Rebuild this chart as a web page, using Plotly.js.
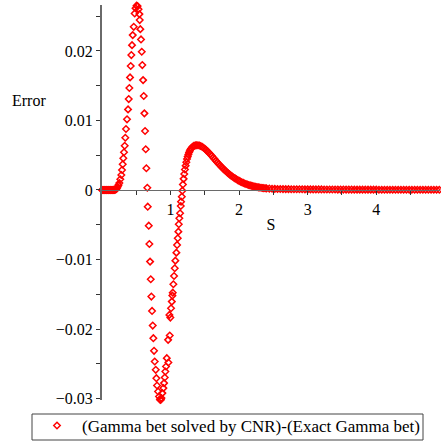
<!DOCTYPE html>
<html>
<head>
<meta charset="utf-8">
<script src="https://cdn.plot.ly/plotly-3.0.1.min.js"></script>
<style>html,body{margin:0;padding:0;background:#fff;}#chart{width:441px;height:444px;}</style>
</head>
<body>
<div id="chart"></div>
<script>
// S values and Error values
const sValues = [
0,0.01,0.02,0.03,0.04,0.05,0.06,0.07,0.08,0.09,0.10,0.11,0.12,0.13,0.14,0.15,0.16,0.17,0.18,0.19,0.20,0.21,0.22,
0.229,0.240,0.253,0.267,0.282,0.292,0.302,0.311,0.321,0.331,0.340,0.350,0.365,0.380,0.390,0.399,0.409,0.419,0.428,0.438,0.448,0.463,0.477,
0.489,0.504,0.518,0.533,0.545,0.550,0.559,0.569,0.580,0.588,0.599,0.609,0.618,0.628,0.638,0.647,0.661,0.667,0.682,0.691,0.701,0.711,0.720,
0.730,0.740,0.749,0.759,0.769,0.784,0.793,0.803,0.818,0.832,0.845,0.851,0.858,0.866,0.880,0.895,0.905,0.915,0.924,0.934,0.945,0.968,0.964,
0.988,0.983,0.997,1.007,1.018,1.026,1.032,1.041,1.051,1.061,1.070,1.085,1.095,1.105,1.114,1.120,1.128,1.139,1.149,1.153,1.164,1.172,
1.180,1.190,1.200,1.210,1.220,1.230,1.240,1.250,1.260,1.270,1.280,1.290,1.300,1.320,1.340,1.360,1.380,1.400,1.420,1.440,1.460,1.480,1.500,
1.520,1.540,1.560,1.580,1.600,1.620,1.640,1.660,1.680,1.700,1.720,1.740,1.760,1.780,1.800,1.820,1.840,1.860,1.880,1.900,1.920,1.940,1.960,
1.980,2.000,2.020,2.040,2.060,2.080,2.100,2.120,2.140,2.160,2.180,2.200,2.220,2.240,2.260,2.280,2.300,2.320,2.340,2.360,2.380,2.400,2.440,
2.480,2.520,2.560,2.600,2.640,2.680,2.720,2.760,2.800,2.840,2.880,2.920,2.960,3.000,3.040,3.080,3.120,3.160,3.200,3.240,3.280,3.320,3.360,
3.400,3.440,3.480,3.520,3.560,3.600,3.640,3.680,3.720,3.760,3.800,3.840,3.880,3.920,3.960,4.000,4.040,4.080,4.120,4.160,4.200,4.240,4.280,
4.320,4.360,4.400,4.440,4.480,4.520,4.560,4.600,4.640,4.680,4.720,4.760,4.800,4.840,4.880,4.920
];
const errorValues = [
0,0,0,0,0,0,0,0,0,0,0,0,0,0,0,0,0,0.00001,0.00002,0.00004,0.00008,0.00015,0.00028,
0.00047,0.00070,0.00100,0.00154,0.00216,0.00287,0.00369,0.00455,0.00542,0.00636,0.00751,0.00876,0.01016,0.01159,0.01307,0.01466,0.01619,0.01782,0.01940,0.02083,0.02227,0.02346,0.02539,
0.02615,0.02651,0.02644,0.02600,0.02529,0.02443,0.02313,0.02165,0.01987,0.01796,0.01580,0.01351,0.01102,0.00848,0.00585,0.00312,0.00033,-0.00240,-0.00513,-0.00776,-0.01030,-0.01283,-0.01533,
-0.01739,-0.01950,-0.02131,-0.02313,-0.02467,-0.02586,-0.02706,-0.02812,-0.02898,-0.02970,-0.03010,-0.03020,-0.03015,-0.02993,-0.02921,-0.02849,-0.02777,-0.02697,-0.02611,-0.02539,-0.02418,-0.02481,-0.02155,
-0.02093,-0.01796,-0.01835,-0.01700,-0.01605,-0.01519,-0.01476,-0.01355,-0.01236,-0.01125,-0.01016,-0.00901,-0.00790,-0.00694,-0.00599,-0.00493,-0.00407,-0.00335,-0.00230,-0.00168,-0.00096,-0.00010,
0.00080,0.00160,0.00230,0.00295,0.00350,0.00400,0.00445,0.00480,0.00512,0.00540,0.00562,0.00582,0.00598,0.00620,0.00634,0.00641,0.00644,0.00644,0.00640,0.00633,0.00622,0.00608,0.00592,
0.00574,0.00555,0.00535,0.00513,0.00491,0.00468,0.00445,0.00422,0.00400,0.00378,0.00356,0.00335,0.00315,0.00295,0.00276,0.00258,0.00241,0.00224,0.00209,0.00194,0.00180,0.00167,0.00154,
0.00142,0.00131,0.00121,0.00111,0.00102,0.00094,0.00086,0.00079,0.00072,0.00066,0.00060,0.00055,0.00050,0.00046,0.00042,0.00038,0.00035,0.00032,0.00029,0.00027,0.00025,0.00023,0.00020,
0.00018,0.00016,0.00015,0.00014,0.00013,0.00012,0.00012,0.00011,0.00011,0.00010,0.00010,0.00010,0.00009,0.00009,0.00009,0.00008,0.00008,0.00008,0.00008,0.00007,0.00007,0.00007,0.00007,
0.00007,0.00006,0.00006,0.00006,0.00006,0.00006,0.00006,0.00005,0.00005,0.00005,0.00005,0.00005,0.00005,0.00005,0.00005,0.00005,0.00004,0.00004,0.00004,0.00004,0.00004,0.00004,0.00004,
0.00004,0.00004,0.00004,0.00004,0.00004,0.00003,0.00003,0.00003,0.00003,0.00003,0.00003,0.00003,0.00003,0.00003,0.00003,0.00003
];
const xTickVals = [1, 2, 3, 4];
const xTickText = ['1', '2', '3', '4'];
const yTickVals = [-0.03, -0.02, -0.01, 0, 0.01, 0.02];
const yTickText = ['\u22120.03', '\u22120.02', '\u22120.01', '0', '0.01', '0.02'];
const seriesName = '(Gamma bet solved by CNR)-(Exact Gamma bet)';

const xRange = [0, 4.93];
const yRange = [-0.0302, 0.0266];
const font = {family: '"Liberation Serif", "Times New Roman", serif', size: 16, color: '#000'};
const legendFont = {family: '"Liberation Serif", "Times New Roman", serif', size: 17, color: '#000'};
const axisColor = '#6a6a6a';

// plot area in pixels (margins) used to place the legend frame
const M = {l: 102, r: 1, t: 5, b: 44};
const W = 441, H = 444;
const pw = W - M.l - M.r, ph = H - M.t - M.b;
const px2paperX = p => (p - M.l) / pw;
const px2paperY = p => (H - M.b - p) / ph;

const trace = {
  x: sValues, y: errorValues, type: 'scatter', mode: 'markers', name: seriesName,
  marker: {symbol: 'diamond-open', size: 5, color: '#ff0000', line: {width: 1.5, color: '#ff0000'}},
  cliponaxis: false, showlegend: true
};

const layout = {
  width: W, height: H,
  margin: {l: M.l, r: M.r, t: M.t, b: M.b, autoexpand: false},
  paper_bgcolor: '#fff', plot_bgcolor: '#fff',
  font: font,
  showlegend: true,
  xaxis: {
    range: xRange, anchor: 'free', position: (0 - yRange[0]) / (yRange[1] - yRange[0]),
    showgrid: false, zeroline: false, showline: true, linecolor: axisColor, linewidth: 1.5,
    tickmode: 'array', tickvals: xTickVals, ticktext: xTickText,
    ticks: 'outside', ticklen: 4, tickwidth: 1, tickcolor: '#333',
    minor: {tickmode: 'array', tickvals: [0.5, 1.5, 2.5, 3.5, 4.5], ticks: 'outside', ticklen: 4, tickwidth: 1, tickcolor: '#333'},
    tickfont: font,
    title: {text: 'S', font: font, standoff: 2}
  },
  yaxis: {
    range: yRange, showgrid: false, zeroline: false, showline: true, linecolor: axisColor, linewidth: 2,
    tickmode: 'array', tickvals: yTickVals, ticktext: yTickText,
    ticks: 'outside', ticklen: 4, tickwidth: 1, tickcolor: '#333',
    minor: {tickmode: 'array', tickvals: [-0.025, -0.015, -0.005, 0.005, 0.015, 0.025], ticks: 'outside', ticklen: 4, tickwidth: 1, tickcolor: '#333'},
    tickfont: font
  },
  annotations: [{
    text: 'Error', xref: 'paper', yref: 'paper', x: px2paperX(29), y: (0.0128 - yRange[0]) / (yRange[1] - yRange[0]),
    xanchor: 'center', yanchor: 'middle', showarrow: false, font: font
  }],
  shapes: [{
    type: 'rect', xref: 'paper', yref: 'paper',
    x0: px2paperX(32), x1: px2paperX(423), y0: px2paperY(440), y1: px2paperY(414),
    line: {color: '#444', width: 1}, fillcolor: 'rgba(0,0,0,0)', layer: 'above'
  }],
  legend: {
    orientation: 'v', xref: 'container', yref: 'container', x: 32 / 441, y: 0,
    xanchor: 'left', yanchor: 'bottom', borderwidth: 0, bgcolor: 'rgba(0,0,0,0)',
    itemwidth: 40, font: legendFont
  }
};

Plotly.newPlot('chart', [trace], layout, {staticPlot: true, displayModeBar: false});
</script>
</body>
</html>
